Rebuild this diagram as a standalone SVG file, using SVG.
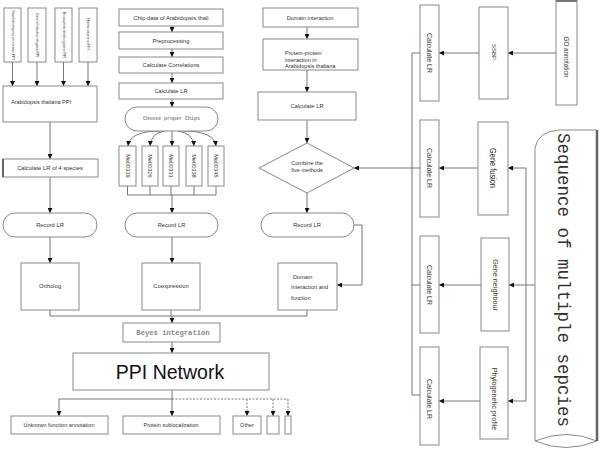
<svg xmlns="http://www.w3.org/2000/svg" width="600" height="455" viewBox="0 0 600 455">
<defs>
<marker id="ar" markerUnits="userSpaceOnUse" markerWidth="5" markerHeight="5" refX="5" refY="2.5" orient="auto"><path d="M0,0 L5,2.5 L0,5 z" fill="#111"/></marker>
<style>
.b{fill:#fff;stroke:#8a8a8a;stroke-width:1}
.t{font-family:"Liberation Sans",Arial,sans-serif;fill:#333;text-anchor:middle;dominant-baseline:central}
.l{fill:none;stroke:#777;stroke-width:1}
.a{fill:none;stroke:#777;stroke-width:1;marker-end:url(#ar)}
.d{fill:none;stroke:#777;stroke-width:1;stroke-dasharray:2 1.5}
.da{fill:none;stroke:#777;stroke-width:1;stroke-dasharray:2 1.5;marker-end:url(#ar)}
.m{font-family:"Liberation Mono","Courier New",monospace;fill:#888;text-anchor:middle;dominant-baseline:central;font-weight:bold}
</style>
</defs>
<rect width="600" height="455" fill="#fff"/>

<g id="connectors">
<!-- left column -->
<path class="a" d="M12.5,62 V86"/>
<path class="a" d="M37,62 V86"/>
<path class="a" d="M63.5,62 V86"/>
<path class="a" d="M88,62 V86"/>
<path class="a" d="M50,122 V159"/>
<path class="a" d="M50,177 V213"/>
<path class="a" d="M50,237 V263"/>
<path class="l" d="M50,310 V316 H307 V310"/>
<!-- middle column -->
<path class="a" d="M172,26 V32"/>
<path class="a" d="M172,49 V57"/>
<path class="a" d="M172,73 V83"/>
<path class="a" d="M172,99 V107"/>
<path class="a" d="M160,131 Q130,131 128,146"/>
<path class="a" d="M165,131 Q151,133 150,146"/>
<path class="a" d="M172,131 V146"/>
<path class="a" d="M178,131 Q193,133 194,146"/>
<path class="a" d="M183,131 Q214,131 216,146"/>
<path class="l" d="M127.5,186 V195 H216 V186 M150,186 V195 M194,186 V195 M171,186 V195"/>
<path class="a" d="M172,195 V213"/>
<path class="a" d="M172,237 V263"/>
<path class="l" d="M171,310 V316"/>
<path class="a" d="M172,316 V323"/>
<path class="a" d="M172,342 V353"/>
<path class="l" d="M172,390 V399 H59"/>
<path class="a" d="M59,399 V416"/>
<path class="a" d="M172,399 V416"/>
<path class="d" d="M172,399 H288"/>
<path class="da" d="M247,399 V416"/>
<path class="da" d="M273,399 V416"/>
<path class="da" d="M288,399 V416"/>
<!-- domain column -->
<path class="a" d="M307,27 V39"/>
<path class="a" d="M307,70 V92"/>
<path class="a" d="M307,120 V143"/>
<path class="a" d="M307,193 V213"/>
<path class="l" d="M354,225 H362 V285"/>
<path class="a" d="M362,285 H337"/>
<!-- right part -->
<path class="a" d="M420,168 H354"/>
<path class="l" d="M420,53 H412 V395 H420 M412,285 H420"/>
<path class="a" d="M556,53 H508"/>
<path class="a" d="M479,53 H439"/>
<path class="a" d="M478,168 H439"/>
<path class="a" d="M481,285 H439"/>
<path class="a" d="M480,401 H439"/>
<path class="l" d="M526,168 V401 M535,285 H526"/>
<path class="a" d="M526,168 H508"/>
<path class="a" d="M526,285 H509"/>
<path class="a" d="M526,401 H508"/>
</g>

<!-- left column nodes -->
<g id="sp1"><rect class="b" x="4" y="8" width="17" height="54"/><text class="t" font-size="3.6" transform="translate(12.5,35) rotate(90)">Saccharomyces cerevisiae PPI</text></g>
<g id="sp2"><rect class="b" x="28" y="8" width="18" height="54"/><text class="t" font-size="3.6" transform="translate(37,35) rotate(90)">Caenorhabditis elegans PPI</text></g>
<g id="sp3"><rect class="b" x="55" y="8" width="17" height="54"/><text class="t" font-size="3.6" transform="translate(63.5,35) rotate(90)">Drosophila melanogaster PPI</text></g>
<g id="sp4"><rect class="b" x="79" y="8" width="18" height="54"/><text class="t" font-size="3.8" transform="translate(88,34) rotate(90)">Homo sapiens PPI</text></g>
<g id="atppi"><rect class="b" x="3" y="86" width="94" height="36"/><text class="t" font-size="5.5" x="11" y="102" style="text-anchor:start">Arabidopsis thaliana PPI</text></g>
<g id="lr4"><rect class="b" x="2.5" y="159" width="95.5" height="18"/><path d="M3,159 V177" stroke="#666" stroke-width="2"/><text class="t" font-size="5.8" x="50" y="168">Calculate LR of 4 species</text></g>
<g id="rec1"><rect class="b" x="3" y="213" width="94" height="24" rx="12"/><text class="t" font-size="5.8" x="50" y="225">Record LR</text></g>
<g id="ortholog"><rect class="b" x="21" y="263" width="58" height="47"/><text class="t" font-size="5.8" x="50" y="286">Ortholog</text></g>

<!-- middle column nodes -->
<g id="chip"><rect class="b" x="119" y="9" width="104" height="17"/><text class="t" font-size="5.8" x="171" y="17.5">Chip data of Arabidopsis thali</text></g>
<g id="prep"><rect class="b" x="119" y="32" width="104" height="17"/><text class="t" font-size="5.8" x="171" y="40.5">Preprocessing</text></g>
<g id="corr"><rect class="b" x="119" y="57" width="104" height="16"/><text class="t" font-size="5.8" x="171" y="65">Calculate Correlations</text></g>
<g id="clr"><rect class="b" x="119" y="83" width="104" height="16"/><text class="t" font-size="5.8" x="171" y="91">Calculate LR</text></g>
<g id="choose"><rect class="b" x="125" y="107" width="93" height="24" rx="12"/><text class="m" font-size="5" x="171.5" y="119">Choose proper Chips</text></g>
<g id="c1"><rect class="b" x="119" y="146" width="17" height="40"/><text class="t" font-size="5.6" transform="translate(127.5,166) rotate(90)">Me00319</text></g>
<g id="c2"><rect class="b" x="142" y="146" width="16" height="40"/><text class="t" font-size="5.6" transform="translate(150,166) rotate(90)">Me00326</text></g>
<g id="c3"><rect class="b" x="163" y="146" width="16" height="40"/><text class="t" font-size="5.6" transform="translate(171,166) rotate(90)">Me00331</text></g>
<g id="c4"><rect class="b" x="186" y="146" width="16" height="40"/><text class="t" font-size="5.6" transform="translate(194,166) rotate(90)">Me00338</text></g>
<g id="c5"><rect class="b" x="208" y="146" width="16" height="40"/><text class="t" font-size="5.6" transform="translate(216,166) rotate(90)">Me00345</text></g>
<g id="rec2"><rect class="b" x="125" y="213" width="93" height="24" rx="12"/><text class="t" font-size="5.8" x="171.5" y="225">Record LR</text></g>
<g id="coexp"><rect class="b" x="142" y="263" width="58" height="47"/><text class="t" font-size="5.8" x="171" y="286">Coexpression</text></g>

<!-- domain column nodes -->
<g id="dom"><rect class="b" x="263" y="8" width="95" height="19"/><text class="t" font-size="5.6" x="310" y="17.5">Domain interaction</text></g>
<g id="ppiat"><rect class="b" x="263" y="39" width="95" height="31"/><text class="t" font-size="5.6" x="285" y="53" style="text-anchor:start">Protein-protein</text><text class="t" font-size="5.6" x="285" y="59.5" style="text-anchor:start">interaction in</text><text class="t" font-size="5.6" x="285" y="66" style="text-anchor:start">Arabidopsis thaliana</text></g>
<g id="clr3"><rect class="b" x="258" y="92" width="98" height="28"/><text class="t" font-size="5.8" x="307" y="106">Calculate LR</text></g>
<g id="combine"><path class="b" d="M307,143 L354,168 L307,193 L259,168 z"/><text class="t" font-size="5.6" x="307" y="163">Combine the</text><text class="t" font-size="5.6" x="307" y="170">five methods</text></g>
<g id="rec3"><rect class="b" x="261" y="213" width="93" height="24" rx="12"/><text class="t" font-size="5.8" x="307" y="225">Record LR</text></g>
<g id="domfun"><rect class="b" x="278" y="263" width="59" height="47"/><text class="t" font-size="5.6" x="293" y="277" style="text-anchor:start">Domain</text><text class="t" font-size="5.6" x="291" y="287" style="text-anchor:start">Interaction and</text><text class="t" font-size="5.6" x="291" y="298" style="text-anchor:start">function</text></g>

<!-- bottom nodes -->
<g id="beyes"><rect class="b" x="123" y="323" width="97" height="19"/><text class="m" font-size="7.2" x="173" y="332.5">Beyes integration</text></g>
<g id="ppinet"><rect class="b" x="73" y="353" width="196" height="37"/><text class="t" font-size="19.5" x="170" y="371.5" style="fill:#111">PPI Network</text></g>
<g id="unknown"><rect class="b" x="11" y="416" width="97" height="18"/><text class="t" font-size="5.5" x="59" y="425">Unknown function annotation</text></g>
<g id="subloc"><rect class="b" x="123" y="416" width="97" height="18"/><text class="t" font-size="5.5" x="171" y="425">Protein sublocalization</text></g>
<g id="other"><rect class="b" x="233" y="416" width="28" height="18"/><text class="t" font-size="5.5" x="247" y="425">Other</text></g>
<g id="e1"><rect class="b" x="267" y="416" width="12" height="18"/></g>
<g id="e2"><rect class="b" x="285" y="416" width="6" height="18"/></g>

<!-- right part nodes -->
<g id="lrA"><rect class="b" x="420" y="5" width="19" height="96"/><text class="t" font-size="7" transform="translate(429.5,53) rotate(90)">Calculate LR</text></g>
<g id="lrB"><rect class="b" x="420" y="120" width="19" height="97"/><text class="t" font-size="7" transform="translate(429.5,168) rotate(90)">Calculate LR</text></g>
<g id="lrC"><rect class="b" x="420" y="236" width="19" height="97"/><text class="t" font-size="7" transform="translate(429.5,285) rotate(90)">Calculate LR</text></g>
<g id="lrD"><rect class="b" x="420" y="347" width="19" height="98"/><text class="t" font-size="7" transform="translate(429.5,399) rotate(90)">Calculate LR</text></g>
<g id="ssbp"><rect class="b" x="479" y="7" width="29" height="92"/><text class="t" font-size="6" transform="translate(493.5,52) rotate(90)">SSBP</text></g>
<g id="fusion"><rect class="b" x="478" y="122" width="30" height="93"/><text class="t" font-size="9" textLength="40" lengthAdjust="spacingAndGlyphs" transform="translate(493,168) rotate(90)" style="fill:#222">Gene fusion</text></g>
<g id="neigh"><rect class="b" x="481" y="238" width="28" height="93"/><text class="t" font-size="7.2" transform="translate(495,285) rotate(90)">Gene neighbour</text></g>
<g id="phylo"><rect class="b" x="480" y="347" width="28" height="92"/><text class="t" font-size="7.2" transform="translate(494,399) rotate(90)">Phylogenetic profile</text></g>
<g id="go"><rect class="b" x="556" y="0" width="21" height="105"/><rect x="556" y="0" width="21" height="2" fill="#777"/><text class="t" font-size="6.3" transform="translate(566.5,57) rotate(90)">GO annotation</text></g>
<g id="seq">
<path d="M535,148 Q538,131 560,130 L597,130 L597,441 M535,148 L535,441" fill="#fff" stroke="#8a8a8a" stroke-width="1"/>
<path d="M535,441 Q566,428 597,441 Q566,454 535,441 z" fill="#fff" stroke="#8a8a8a" stroke-width="1"/>
<path d="M597,130 V441" stroke="#666" stroke-width="2.5"/>
<text font-family="'Liberation Mono','Courier New',monospace" font-size="17.5" fill="#333" text-anchor="middle" dominant-baseline="central" transform="translate(563,280) rotate(90)">Sequence of multiple sepcies</text>
</g>
</svg>
